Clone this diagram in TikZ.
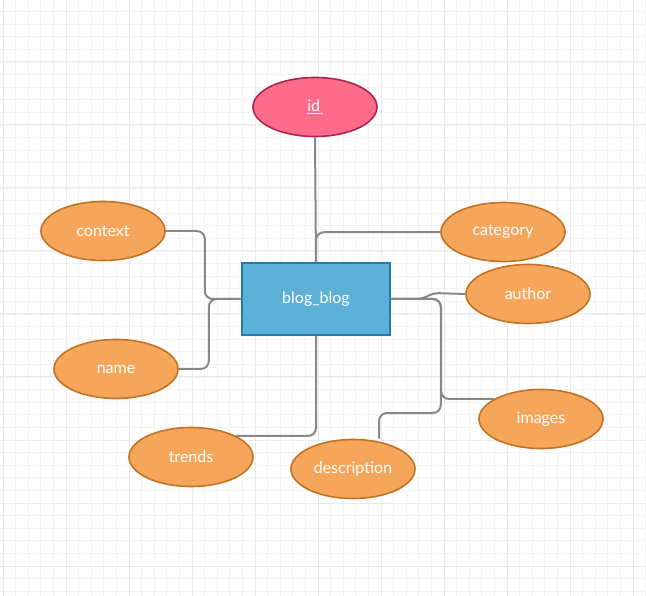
\documentclass[tikz,border=0pt]{standalone}
\usepackage{fontspec}
\setmainfont{Lato}
\usepackage{tikz}
\usepackage{xcolor}
\usetikzlibrary{positioning, calc, shapes.geometric}
\definecolor{keyfill}{HTML}{FF6B8A}
\definecolor{keyline}{HTML}{A8284A}
\definecolor{tabfill}{HTML}{5DB0D6}
\definecolor{tabline}{HTML}{1F7EAD}
\definecolor{attfill}{HTML}{F5A65B}
\definecolor{attline}{HTML}{C27424}
\definecolor{linkgray}{HTML}{888888}
\definecolor{gridminor}{HTML}{F3F3F3}
\definecolor{gridmajor}{HTML}{EAEAEA}

\begin{document}
\begin{tikzpicture}[x=1pt, y=-1pt,
            att/.style={ellipse, draw=attline, fill=attfill, line width=1.6pt, minimum width=124pt, minimum height=59pt, inner sep=0pt, text=white, font=\fontsize{16}{19}\selectfont},
            pk/.style={ellipse, draw=keyline, fill=keyfill, line width=1.6pt, minimum width=124pt, minimum height=59pt, inner sep=0pt, text=white, font=\fontsize{16}{19}\selectfont},
            tab/.style={rectangle, draw=tabline, fill=tabfill, line width=1.6pt, minimum width=148pt, minimum height=72pt, inner sep=0pt, text=white, font=\fontsize{16}{19}\selectfont},
            link/.style={linkgray, line width=2pt, rounded corners=8pt}]
            \useasboundingbox (0,0) rectangle (646,596);
            \fill[white] (0,0) rectangle (646,596);
            % grid
            \foreach \i in {0,...,51}
                \draw[gridminor, line width=0.8pt] ({3+12.6*\i},0) -- ++(0,596);
            \foreach \i in {1,...,47}
                \draw[gridminor, line width=0.8pt] (0,{-1+12.6*\i}) -- ++(646,0);
            \foreach \i in {0,...,10}
                \draw[gridmajor, line width=1pt] ({3+63*\i},0) -- ++(0,596);
            \foreach \i in {1,...,9}
                \draw[gridmajor, line width=1pt] (0,{-1+63*\i}) -- ++(646,0);
            % entity and attributes
            \node[tab] (blog) at (316,299) {blog\_blog};
            \node[pk] (id) at (315,107) {\underline{id\,}};
            \node[att] (context) at (103,231) {context};
            \node[att] (name) at (116,369) {name};
            \node[att] (trends) at (191,457) {trends};
            \node[att] (desc) at (353,469) {description};
            \node[att] (images) at (541,419) {images};
            \node[att] (author) at (528,294) {author};
            \node[att] (category) at (503,232) {category};
            % links
            \draw[link] (id.south) -- (blog.north);
            \draw[link] (blog.north) -- ++(0,-30) -- (category.west);
            \draw[link] (context.east) -- ++(39,0) |- (blog.west);
            \draw[link] (name.east) -- ++(30,0) |- (blog.west);
            \draw[link] (blog.south) |- (trends.25);
            \draw[link, rounded corners=6pt] (blog.east) -- ++(32,0) -- ++(10,-6) -- (author.west);
            \draw[link] (blog.east) -| (images.157 -| 441,0) -- (images.157);
            \draw[link] (blog.east) -| ++(50,114) -| (desc.north -| 379,0);
        \end{tikzpicture}
\end{document}
